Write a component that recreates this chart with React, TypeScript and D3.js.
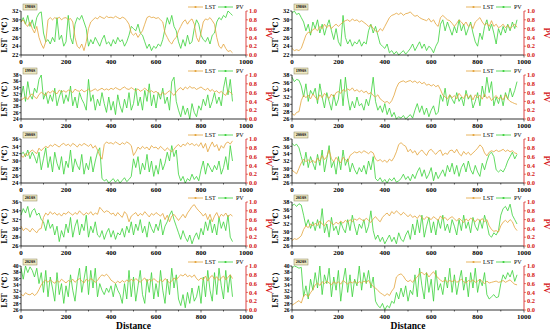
import * as d3 from "d3";

// decade labels for the five rows
const DECADES = ["1980S", "1990S", "2000S", "2010S", "2020S"];

// LST axis range of each row, left and right column
const LST_RANGE_LEFT = [[22, 32], [24, 38], [24, 36], [26, 36], [26, 40]];
const LST_RANGE_RIGHT = [[22, 32], [26, 38], [26, 38], [26, 38], [26, 40]];

const X_TICKS = [0, 200, 400, 600, 800, 1000];
const PV_TICKS = [0, 0.2, 0.4, 0.6, 0.8, 1.0];
const STEP = 10; // sampling distance of the profiles

// ---- left column ----
const lstL1 = [29.5, 30, 29, 28.5, 29.5, 28, 27, 28.5, 26, 24.5, 23.5, 25, 30, 30.5, 30, 30.5, 30.2, 30.6, 30, 30.4, 30.5, 30, 30.3, 29.5, 26, 24, 23.5, 24.5, 23, 25, 28, 29.5, 30, 30.5, 30.2, 30.8, 30.5, 30.3, 30.8, 30.5, 30.6, 30.4, 30.8, 30.5, 30.2, 30.6, 30.4, 29.8, 29, 27, 26.5, 27, 26, 26.8, 27.5, 29, 30.5, 30.8, 30.5, 30.6, 30.3, 30.5, 30, 29.5, 27, 26, 25, 24.5, 25.5, 26, 27.5, 28.5, 29.5, 30, 29, 29.8, 30.2, 29, 26, 25, 27, 29.5, 30.2, 30, 30.5, 29.8, 29, 26, 24, 23.5, 24.5, 23.5, 22.8, 23, 22.5];
const pvL1 = [0.75, 0.85, 0.7, 0.9, 0.65, 0.8, 0.6, 0.85, 0.95, 0.98, 0.5, 0.3, 0.35, 0.25, 0.4, 0.3, 0.85, 0.35, 0.45, 0.2, 0.3, 0.9, 0.4, 0.25, 0.7, 0.85, 0.8, 0.9, 0.75, 0.6, 0.2, 0.35, 0.25, 0.4, 0.3, 0.2, 0.35, 0.45, 0.25, 0.3, 0.2, 0.35, 0.25, 0.4, 0.3, 0.35, 0.2, 0.3, 0.45, 0.65, 0.6, 0.55, 0.7, 0.5, 0.45, 0.3, 0.15, 0.25, 0.1, 0.2, 0.15, 0.25, 0.2, 0.35, 0.6, 0.85, 0.7, 0.9, 0.65, 0.55, 0.3, 0.15, 0.35, 0.2, 0.45, 0.25, 0.3, 0.6, 0.8, 0.7, 0.45, 0.35, 0.3, 0.4, 0.25, 0.45, 0.5, 0.75, 0.85, 0.8, 0.9, 0.85, 1.0, 0.95, 0.9];

const lstL2 = [30, 30.5, 31, 30.2, 31.5, 32, 31, 30.5, 31.8, 32.5, 32, 31.5, 32.8, 32.2, 33, 32.5, 32, 33.2, 32.6, 33, 32.5, 33.2, 33, 32.4, 33.5, 33, 32.8, 33.4, 32.6, 33, 33.5, 32.8, 33.2, 33.6, 33, 33.4, 33.8, 33.2, 33.6, 33.2, 33.8, 33.4, 34, 33.6, 33.2, 33.8, 34.2, 33.6, 33.4, 34, 33.5, 33, 33.6, 32.8, 33.2, 33.8, 33.2, 32.6, 33, 32.4, 32.8, 32.2, 31.6, 32.5, 31.8, 32.4, 33, 32.2, 31.5, 32.6, 33.5, 34, 33.2, 34.2, 33.6, 34.4, 33.8, 34, 33.4, 33.8, 34.2, 33.6, 33.2, 33.8, 32.8, 33.4, 32.6, 33, 32.2, 32.8, 32, 31.5, 33, 32.5, 31.8];
const pvL2 = [0.5, 0.75, 0.4, 0.85, 0.55, 0.45, 0.7, 0.6, 0.9, 1.0, 0.45, 0.6, 0.35, 0.55, 0.4, 0.7, 0.3, 0.5, 0.65, 0.35, 0.55, 0.4, 0.75, 0.3, 0.5, 0.25, 0.6, 0.45, 0.35, 0.2, 0.9, 0.4, 0.55, 0.2, 0.45, 0.3, 0.6, 0.35, 0.15, 0.5, 0.2, 0.4, 0.1, 0.55, 0.3, 0.15, 0.45, 0.25, 0.6, 0.2, 0.35, 0.7, 0.3, 0.5, 0.2, 0.65, 0.4, 0.8, 0.3, 0.55, 0.25, 0.6, 0.45, 0.7, 0.35, 0.5, 0.2, 0.85, 0.95, 0.4, 0.2, 0.05, 0.3, 0.1, 0.25, 0.0, 0.35, 0.15, 0.05, 0.3, 0.2, 0.45, 0.3, 0.55, 0.25, 0.4, 0.6, 0.35, 0.5, 0.3, 0.7, 0.95, 0.55, 0.9, 0.4];

const lstL3 = [31.5, 31, 32, 31.5, 32.5, 33, 32.5, 32, 33.5, 32.8, 33.5, 34, 33.6, 34.4, 34, 34.6, 34.2, 33.8, 34.5, 34.8, 34.2, 34.6, 34, 34.8, 34.4, 33.8, 34.6, 34.2, 34.8, 34.4, 34, 34.6, 33.5, 34.2, 33, 31.5, 30.5, 34.5, 35.2, 34.8, 35, 34.6, 35.2, 34.8, 34.4, 35, 34.6, 35.2, 34.8, 34.2, 31.5, 32.5, 33.8, 33.2, 34, 33.4, 33.8, 33, 34.2, 33.6, 33.8, 33.2, 34, 33.4, 32.8, 33.6, 33, 32.5, 33.2, 34, 34.5, 33.8, 34.6, 34.2, 35, 34.4, 34.8, 34.2, 34.6, 34, 35, 33.5, 34.8, 32.5, 34, 35.2, 33.8, 34.5, 32.8, 34.2, 33.5, 34.8, 35.2, 34.6, 35.5];
const pvL3 = [0.65, 0.7, 0.6, 0.75, 0.55, 0.7, 0.6, 0.45, 0.7, 0.3, 0.55, 0.8, 0.35, 0.6, 0.25, 0.7, 0.45, 0.3, 0.6, 0.2, 0.5, 0.35, 0.75, 0.25, 0.55, 0.4, 0.3, 0.65, 0.2, 0.45, 0.3, 0.6, 0.25, 0.5, 0.7, 0.8, 0.1, 0.05, 0.08, 0.0, 0.05, 0.1, 0.02, 0.08, 0.0, 0.06, 0.12, 0.03, 0.08, 0.15, 0.55, 0.35, 0.6, 0.2, 0.45, 0.3, 0.65, 0.25, 0.5, 0.15, 0.4, 0.2, 0.55, 0.3, 0.45, 0.7, 0.5, 0.85, 0.6, 0.75, 0.2, 0.05, 0.15, 0.0, 0.1, 0.05, 0.2, 0.08, 0.15, 0.05, 0.3, 0.5, 0.2, 0.45, 0.35, 0.25, 0.4, 0.3, 0.5, 0.2, 0.35, 0.6, 0.3, 0.85, 0.5];

const lstL4 = [30.5, 29.5, 30, 29.8, 29.2, 30, 29.5, 29, 29.8, 30, 32.5, 33.5, 33, 33.8, 33.2, 33.6, 33, 33.4, 32.8, 33.5, 33.2, 33.8, 33.4, 33, 33.6, 33.2, 34, 33.4, 33, 33.6, 33.2, 33.8, 33, 33.5, 33.2, 34.8, 34.2, 33.6, 34, 33.8, 33.2, 33.5, 32.8, 33.6, 33, 32.5, 33.8, 33.2, 31.5, 32.8, 33.2, 33.6, 32.8, 33.4, 33, 33.8, 33.2, 32.6, 33.4, 33, 33.6, 33.2, 32.8, 33.4, 32, 33, 31.5, 32.8, 33.2, 32.5, 31.8, 32.5, 33.2, 32.4, 33.5, 34.2, 35, 35.4, 34.6, 34, 33.5, 32.8, 33.4, 32, 33.2, 31.5, 32.8, 33.6, 32.4, 33.2, 32.8, 33.5, 32.6, 33.2, 32.8];
const pvL4 = [0.7, 0.85, 0.75, 0.9, 0.65, 0.8, 0.85, 0.7, 0.75, 0.6, 0.55, 0.35, 0.6, 0.4, 0.5, 0.25, 0.45, 0.1, 0.35, 0.2, 0.5, 0.3, 0.65, 0.2, 0.45, 0.6, 0.25, 0.5, 0.35, 0.7, 0.2, 0.45, 0.3, 0.55, 0.25, 0.2, 0.35, 0.15, 0.3, 0.4, 0.2, 0.35, 0.15, 0.3, 0.25, 0.4, 0.2, 0.45, 0.3, 0.55, 0.25, 0.5, 0.35, 0.6, 0.3, 0.45, 0.2, 0.55, 0.4, 0.3, 0.5, 0.35, 0.6, 0.25, 0.45, 0.55, 0.7, 0.8, 0.6, 0.45, 0.3, 0.15, 0.35, 0.2, 0.1, 0.25, 0.05, 0.2, 0.3, 0.15, 0.4, 0.25, 0.55, 0.35, 0.6, 0.3, 0.5, 0.25, 0.65, 0.4, 0.55, 0.35, 0.7, 0.2, 0.1];

const lstL5 = [31, 30.5, 31.5, 31, 30.8, 31.4, 30.6, 31.2, 32.5, 34, 35, 35.5, 34.8, 35.6, 35, 34.5, 35.4, 34.8, 35.8, 35.2, 34.6, 35.4, 35, 35.8, 34.8, 35.5, 36, 35.2, 34.6, 35.8, 35.2, 36, 35.5, 34.8, 35.4, 36.5, 37.2, 36.8, 37.4, 36.6, 35.5, 35, 34.5, 35.2, 34.6, 35.4, 34.8, 35.6, 35, 35.8, 35.2, 36, 35.4, 34.8, 35.6, 36.2, 35, 35.8, 35.2, 36, 35.4, 34.8, 35.6, 35, 36, 35.4, 34.6, 35.2, 36.2, 35.6, 36.5, 37.2, 36.8, 37.5, 36.6, 37, 36.4, 37.2, 36, 35.4, 36.2, 35.6, 36.8, 35.2, 36.4, 37, 35.8, 36.6, 35.4, 36.2, 36.8, 35.6, 36.4, 37.2, 36];
const pvL5 = [0.95, 0.7, 1.0, 0.85, 0.98, 0.9, 0.75, 0.95, 0.6, 0.85, 0.4, 0.9, 0.3, 0.75, 0.5, 0.2, 0.85, 0.35, 0.6, 0.15, 0.55, 0.3, 0.8, 0.45, 0.2, 0.65, 0.95, 0.4, 0.7, 1.0, 0.35, 0.9, 0.5, 0.95, 0.3, 0.6, 0.45, 0.35, 0.5, 0.4, 0.55, 0.3, 0.6, 0.45, 0.35, 0.15, 0.6, 0.25, 0.9, 0.3, 0.75, 0.2, 0.55, 0.9, 0.35, 0.15, 0.7, 0.4, 0.85, 0.25, 0.6, 0.3, 0.9, 0.45, 0.15, 0.7, 0.35, 0.95, 0.5, 0.8, 0.25, 0.1, 0.35, 0.05, 0.4, 0.15, 0.5, 0.2, 0.3, 0.55, 0.15, 0.75, 0.3, 0.9, 0.45, 0.2, 0.85, 0.35, 0.95, 0.55, 0.25, 0.9, 0.4, 0.8, 0.3];

// ---- right column ----
const lstR1 = [23.5, 23, 23.2, 23, 23.5, 25, 26.5, 27.2, 27, 27.8, 28, 27.5, 28.5, 28, 29, 28.2, 28.8, 28, 28.6, 29, 28.5, 29, 29.5, 29.8, 30, 29.6, 30.2, 29.8, 30, 29.5, 29.8, 29.4, 29, 28.5, 28.8, 28, 27.5, 27.2, 28, 27.5, 28.5, 29.5, 30.5, 31, 31.2, 31.5, 31.2, 31.6, 31, 31.4, 31.5, 31.8, 31.2, 30.8, 31, 30.5, 30.2, 30, 29.8, 30.3, 29.5, 30, 29, 28.5, 30.5, 31, 30.5, 30, 29.8, 29.2, 28.5, 29.2, 30, 29.5, 28.8, 29.5, 28.5, 29, 28, 29.5, 30, 30.5, 29.5, 28.8, 29.2, 28.5, 29.8, 28.5, 29, 28.2, 28.5, 29, 28.2, 28.8, 28, 28.5, 29, 28.3];
const pvR1 = [0.95, 1.0, 0.92, 0.95, 0.85, 0.75, 0.55, 0.7, 0.45, 0.75, 0.6, 0.8, 0.5, 0.7, 0.45, 0.65, 0.8, 0.55, 0.35, 0.6, 0.3, 0.2, 0.9, 0.4, 0.25, 0.35, 0.2, 0.3, 0.25, 0.35, 0.2, 0.3, 0.25, 0.55, 0.7, 0.5, 0.65, 0.45, 0.25, 0.2, 0.15, 0.25, 0.05, 0.1, 0.02, 0.08, 0.0, 0.05, 0.1, 0.02, 0.08, 0.15, 0.25, 0.1, 0.2, 0.3, 0.15, 0.25, 0.1, 0.2, 0.15, 0.05, 0.2, 0.3, 0.7, 0.8, 0.55, 0.75, 0.6, 0.45, 0.65, 0.5, 0.8, 0.55, 0.7, 0.45, 0.6, 0.75, 0.5, 0.3, 0.2, 0.5, 0.35, 0.65, 0.8, 0.55, 0.7, 0.5, 0.25, 0.6, 0.45, 0.65, 0.5, 0.7, 0.55, 0.75, 0.6, 0.8];

const lstR2 = [27.5, 27, 27.8, 28, 31, 32.5, 31.8, 32.5, 31.5, 32.8, 32, 31.2, 32.6, 31.8, 33, 32.2, 31.6, 32.8, 32, 33.2, 33.5, 33, 34, 33.6, 34.2, 33.8, 34.5, 33.6, 34, 33.4, 33.8, 33.2, 33.6, 32.8, 33.2, 32.4, 32, 32.6, 31.5, 31, 30.5, 30.8, 30.2, 31, 32.5, 34.5, 35.8, 36.2, 36.4, 36, 36.3, 36.5, 36, 36.4, 35.8, 36.2, 35.6, 36, 35.2, 35.5, 35, 35.4, 34.8, 35.2, 34, 32.5, 32, 31.5, 32.6, 31.8, 32.4, 31.5, 33, 32.2, 31.6, 32.8, 31.8, 32.5, 31.2, 32.6, 31.8, 32.5, 31.4, 32.8, 31.6, 32.2, 31, 31.8, 32.4, 31.5, 32, 31.2, 32.6, 31.5, 30.8, 30.5, 30.2, 30];
const pvR2 = [0.95, 0.85, 0.9, 0.88, 0.75, 0.5, 0.8, 0.4, 0.65, 0.55, 0.7, 0.35, 0.8, 0.5, 0.25, 0.6, 0.4, 0.2, 0.55, 0.3, 0.45, 0.9, 0.3, 0.95, 0.5, 0.2, 0.4, 0.25, 0.5, 0.3, 0.35, 0.2, 0.45, 0.3, 0.55, 0.95, 0.4, 0.2, 0.3, 0.15, 0.35, 0.1, 0.25, 0.05, 0.15, 0.0, 0.05, 0.02, 0.08, 0.0, 0.05, 0.1, 0.02, 0.2, 0.35, 0.15, 0.3, 0.1, 0.25, 0.05, 0.2, 0.3, 0.1, 0.15, 0.55, 0.4, 0.7, 0.3, 0.55, 0.45, 0.35, 0.6, 0.4, 0.5, 0.3, 0.65, 0.45, 0.55, 0.25, 0.4, 0.6, 0.3, 0.75, 0.5, 0.95, 0.6, 0.85, 0.3, 0.5, 0.35, 0.55, 0.3, 0.6, 0.45, 0.7, 0.5, 0.65, 0.85];

const lstR3 = [29.5, 29, 28.5, 30, 31.5, 32.5, 31.8, 32.4, 31.6, 32.2, 31.5, 32.8, 32, 33.5, 32.4, 33.2, 35, 32.6, 31.8, 33, 32.2, 31.5, 33, 32.4, 31.8, 33.5, 34, 34.5, 34.2, 34.6, 34.2, 34.8, 34.4, 34, 34.6, 34.2, 32.5, 32, 32.4, 31.8, 32.2, 31.6, 32.5, 32, 33, 34.5, 36.5, 37, 36.4, 36, 34.5, 35.2, 34.2, 34.8, 33.6, 34.5, 35, 34.2, 33.5, 34.8, 35.2, 34.4, 33.8, 34.6, 35, 33.5, 34.2, 33.8, 34.8, 35, 34.2, 35.2, 34, 33.4, 34.6, 33.8, 34.4, 33.6, 34.2, 34.8, 35.5, 36.4, 35.8, 34.2, 33.4, 34.4, 34.8, 34.5, 35, 34.6, 34.8, 35.2, 34.6, 35, 34.5, 34.8, 34.2, 34];
const pvR3 = [0.9, 0.85, 0.88, 0.8, 0.6, 0.4, 0.7, 0.35, 0.6, 0.45, 0.3, 0.65, 0.4, 0.75, 0.25, 0.55, 0.85, 0.35, 0.5, 0.2, 0.6, 0.3, 0.75, 0.4, 0.55, 0.25, 0.45, 0.3, 0.2, 0.35, 0.25, 0.4, 0.2, 0.5, 0.3, 0.6, 0.1, 0.05, 0.12, 0.02, 0.08, 0.0, 0.1, 0.05, 0.12, 0.02, 0.05, 0.1, 0.2, 0.08, 0.15, 0.05, 0.2, 0.1, 0.25, 0.35, 0.15, 0.3, 0.1, 0.2, 0.35, 0.05, 0.25, 0.1, 0.2, 0.3, 0.15, 0.4, 0.25, 0.45, 0.2, 0.4, 0.15, 0.35, 0.45, 0.25, 0.5, 0.3, 0.2, 0.4, 0.25, 0.15, 0.45, 0.3, 0.5, 0.65, 0.7, 0.6, 0.3, 0.25, 0.3, 0.25, 0.35, 0.5, 0.6, 0.7, 0.55, 0.65];

const lstR4 = [27.5, 28, 27.8, 28.2, 28.8, 30.5, 31.5, 31, 32, 31.5, 32.2, 31.6, 32.8, 32, 31.5, 32.6, 33, 32.2, 31.8, 32.5, 32, 32.8, 32.2, 33, 32.5, 33.2, 32.6, 33.4, 33, 33.6, 33.2, 32.8, 33.6, 33, 32.4, 33.4, 34, 33.2, 32.6, 33.8, 34.5, 35, 34.2, 35.4, 34.8, 35.6, 35, 34.4, 35.2, 34.6, 34, 34.6, 33.8, 34.2, 33.5, 34.4, 33.8, 33.2, 34, 33.6, 33.2, 34, 33.5, 33, 34.2, 33.4, 33.8, 33, 33.6, 34, 33.4, 32.8, 33.6, 33, 32.4, 33.4, 32.8, 33.6, 33.2, 32.6, 33.4, 32.8, 33.5, 32.6, 33.2, 31.5, 30.5, 30, 30.2, 29.8, 31.5, 32.5, 33, 32.4, 33.2, 32.6, 31, 30.2];
const pvR4 = [0.92, 0.95, 0.9, 0.96, 0.93, 0.7, 0.45, 0.6, 0.4, 0.55, 0.35, 0.6, 0.4, 0.85, 0.3, 0.5, 0.2, 0.65, 0.35, 0.45, 0.25, 0.55, 0.4, 0.3, 0.6, 0.35, 0.7, 0.45, 0.25, 0.5, 0.4, 0.6, 0.3, 0.45, 0.8, 0.35, 0.15, 0.25, 0.1, 0.2, 0.05, 0.15, 0.25, 0.1, 0.2, 0.05, 0.3, 0.15, 0.1, 0.25, 0.35, 0.15, 0.5, 0.25, 0.6, 0.3, 0.7, 0.2, 0.45, 0.65, 0.3, 0.55, 0.25, 0.6, 0.4, 0.7, 0.35, 0.5, 0.3, 0.6, 0.45, 0.25, 0.6, 0.35, 0.7, 0.4, 0.55, 0.3, 0.65, 0.45, 0.35, 0.6, 0.4, 0.7, 0.5, 0.25, 0.2, 0.3, 0.25, 0.35, 0.7, 0.85, 0.9, 0.8, 0.95, 0.7, 0.6, 0.5];

const lstR5 = [27.5, 28, 28.5, 29, 28.2, 30.5, 31, 30.2, 31.5, 32.5, 34, 34.6, 33.8, 35, 34.4, 35.2, 34.6, 34, 35, 34.4, 35, 34.2, 35.4, 34.8, 34.2, 35, 34.6, 35.2, 34.4, 35, 34.6, 35.2, 34.8, 35.4, 34.2, 33.5, 33, 32.2, 31.5, 31, 30.5, 31.2, 30.6, 32, 33, 36.5, 37.2, 37.5, 36.8, 35.6, 35, 35.5, 34.8, 35.8, 36.5, 37.6, 38, 37.2, 37.8, 36.5, 37.4, 38.2, 37, 36.2, 35.5, 35, 35.6, 34.8, 35.4, 35, 35.6, 34.8, 35.2, 35.8, 35, 34.6, 35.4, 35, 35.6, 34.8, 35.2, 35.8, 35, 34.4, 35.2, 34.6, 34.8, 35, 35.2, 34.8, 35, 35.4, 34.8, 35.2, 35.6, 34.8, 34.2, 34];
const pvR5 = [0.95, 1.0, 0.98, 0.95, 0.97, 0.3, 0.55, 0.25, 0.7, 0.45, 0.85, 0.5, 1.0, 0.35, 0.8, 0.6, 0.95, 0.3, 0.75, 0.45, 0.9, 0.2, 0.65, 0.95, 0.4, 0.8, 0.3, 0.7, 0.55, 1.0, 0.45, 0.85, 0.6, 0.9, 0.5, 0.75, 0.2, 0.1, 0.05, 0.15, 0.0, 0.1, 0.05, 0.2, 0.15, 0.4, 0.25, 0.5, 0.3, 0.55, 0.2, 0.45, 0.35, 0.8, 0.3, 0.95, 0.55, 0.25, 0.85, 0.4, 0.7, 0.2, 0.9, 0.45, 0.6, 0.35, 0.75, 0.5, 0.95, 0.4, 0.8, 0.35, 0.65, 0.9, 0.45, 0.75, 0.3, 0.85, 0.5, 0.95, 0.4, 0.7, 0.55, 0.85, 0.35, 0.25, 0.3, 0.35, 0.28, 0.3, 0.6, 0.8, 0.7, 0.85, 0.75, 0.9, 0.65, 0.8];

const LEFT_LST = [lstL1, lstL2, lstL3, lstL4, lstL5];
const LEFT_PV = [pvL1, pvL2, pvL3, pvL4, pvL5];
const RIGHT_LST = [lstR1, lstR2, lstR3, lstR4, lstR5];
const RIGHT_PV = [pvR1, pvR2, pvR3, pvR4, pvR5];

const W = 550;
const H = 332;
const ROW_TOPS = [11, 75, 139, 202, 266];
const PLOT_H = 44;
const COLS = [
  { x0: 21, x1: 246, titleX: 7 },
  { x0: 292, x1: 524, titleX: 278 },
];

const ORANGE = "#e3a33a";
const GREEN = "#3ad23a";
const RED = "#d41414";
const FONT = "'Liberation Serif', 'DejaVu Serif', serif";

type PanelProps = {
  x0: number;
  x1: number;
  top: number;
  titleX: number;
  range: number[];
  lst: number[];
  pv: number[];
  label: string;
  last: boolean;
};

const Panel = ({ x0, x1, top, titleX, range, lst, pv, label, last }: PanelProps) => {
  const bottom = top + PLOT_H;
  const x = d3.scaleLinear().domain([0, 1000]).range([x0, x1]);
  const yL = d3.scaleLinear().domain(range).range([bottom, top]);
  const yP = d3.scaleLinear().domain([0, 1]).range([bottom, top]);
  const lstTicks = d3.range(range[0], range[1] + 0.01, 2);
  // squeeze the labels a bit when the axis has many ticks
  const tickFont = lstTicks.length > 7 ? 5.6 : 6.4;

  const lstLine = d3
    .line<number>()
    .x((_, i) => x(i * STEP))
    .y((d) => yL(d));
  const pvLine = d3
    .line<number>()
    .x((_, i) => x(i * STEP))
    .y((d) => yP(d));

  const midY = (top + bottom) / 2;
  const legY = top - 4;

  return (
    <g>
      <path d={pvLine(pv) ?? ""} fill="none" stroke={GREEN} strokeWidth={0.8} />
      <path d={lstLine(lst) ?? ""} fill="none" stroke={ORANGE} strokeWidth={0.8} />

      {/* bottom axis */}
      <line x1={x0} x2={x1} y1={bottom} y2={bottom} stroke="#000" strokeWidth={0.8} />
      {d3.range(0, 1001, 100).map((t) => (
        <line key={t} x1={x(t)} x2={x(t)} y1={bottom} y2={bottom + (t % 200 === 0 ? 2.5 : 1.5)} stroke="#000" strokeWidth={0.6} />
      ))}
      {X_TICKS.map((t) => (
        <text key={t} x={x(t)} y={bottom + 8.5} fontSize={7} fontWeight="bold" textAnchor="middle" fontFamily={FONT}>
          {t}
        </text>
      ))}

      {/* left axis */}
      <line x1={x0} x2={x0} y1={top} y2={bottom} stroke="#000" strokeWidth={0.8} />
      {lstTicks.map((t) => (
        <g key={t}>
          <line x1={x0 - 2} x2={x0} y1={yL(t)} y2={yL(t)} stroke="#000" strokeWidth={0.6} />
          <text x={x0 - 2.5} y={yL(t) + tickFont * 0.35} fontSize={tickFont} fontWeight="bold" textAnchor="end" fontFamily={FONT}>
            {t}
          </text>
        </g>
      ))}
      <text
        transform={`translate(${titleX},${midY}) rotate(-90)`}
        fontSize={7.5}
        fontWeight="bold"
        textAnchor="middle"
        fontFamily={FONT}
      >
        LST（℃）
      </text>

      {/* right axis */}
      <line x1={x1} x2={x1} y1={top} y2={bottom} stroke={RED} strokeWidth={0.8} />
      {PV_TICKS.map((t) => (
        <g key={t}>
          <line x1={x1} x2={x1 + 2} y1={yP(t)} y2={yP(t)} stroke={RED} strokeWidth={0.6} />
          <text x={x1 + 3} y={yP(t) + 2.2} fontSize={6.4} fontWeight="bold" fill={RED} fontFamily={FONT}>
            {t.toFixed(1)}
          </text>
        </g>
      ))}
      <text
        transform={`translate(${x1 + 20},${midY}) rotate(90)`}
        fontSize={8}
        fontWeight="bold"
        fill={RED}
        textAnchor="middle"
        fontFamily={FONT}
      >
        PV
      </text>

      {/* decade tag */}
      <rect x={x0 + 2} y={top - 7} width={14} height={6} fill="#efe9c2" stroke="#8c8660" strokeWidth={0.5} />
      <text x={x0 + 9} y={top - 2.6} fontSize={4.2} fontWeight="bold" textAnchor="middle" fontFamily={FONT}>
        {label}
      </text>

      {/* legend */}
      <line x1={x1 - 58} x2={x1 - 43} y1={legY} y2={legY} stroke={ORANGE} strokeWidth={0.8} />
      <circle cx={x1 - 50.5} cy={legY} r={1.1} fill={ORANGE} />
      <text x={x1 - 41} y={legY + 2} fontSize={6} fontFamily={FONT}>
        LST
      </text>
      <line x1={x1 - 28} x2={x1 - 13} y1={legY} y2={legY} stroke={GREEN} strokeWidth={0.8} />
      <circle cx={x1 - 20.5} cy={legY} r={1.1} fill={GREEN} />
      <text x={x1 - 10} y={legY + 2} fontSize={6} fontFamily={FONT}>
        PV
      </text>

      {last && (
        <text x={(x0 + x1) / 2} y={bottom + 19} fontSize={9.5} fontWeight="bold" textAnchor="middle" fontFamily={FONT}>
          Distance
        </text>
      )}
    </g>
  );
};

export default function App() {
  return (
    <svg width={W} height={H} style={{ position: "absolute", left: 0, top: 0, background: "#fff" }}>
      {COLS.map((c, ci) =>
        DECADES.map((dec, ri) => (
          <Panel
            key={`${ci}-${ri}`}
            x0={c.x0}
            x1={c.x1}
            top={ROW_TOPS[ri]}
            titleX={c.titleX}
            range={ci === 0 ? LST_RANGE_LEFT[ri] : LST_RANGE_RIGHT[ri]}
            lst={ci === 0 ? LEFT_LST[ri] : RIGHT_LST[ri]}
            pv={ci === 0 ? LEFT_PV[ri] : RIGHT_PV[ri]}
            label={dec}
            last={ri === DECADES.length - 1}
          />
        ))
      )}
    </svg>
  );
}
